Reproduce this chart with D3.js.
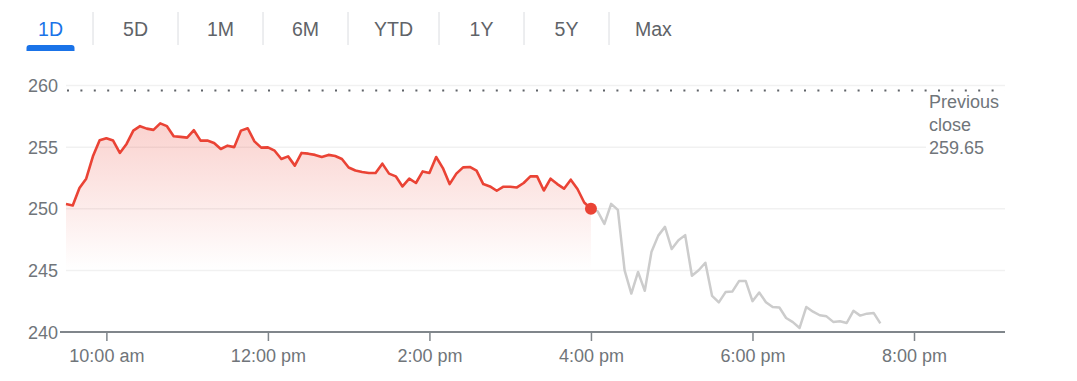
<!DOCTYPE html>
<html lang="en">
<head>
<meta charset="UTF-8">
<title>1D price</title>
<script src="https://cdn.jsdelivr.net/npm/d3@7"></script>
<style>
  body { margin: 0; background: #fff; font-family: Arial, "Liberation Sans", sans-serif; }
  .tab { font-size: 19.5px; fill: #5f6368; }
  .tab.active { fill: #1a73e8; }
  .axis text { font-size: 18px; fill: #70757a; font-family: Arial, "Liberation Sans", sans-serif; }
  .note { font-size: 18px; fill: #70757a; }
</style>
</head>
<body>
<script>
// range tabs
var tabs = ["1D", "5D", "1M", "6M", "YTD", "1Y", "5Y", "Max"];

// regular session, one value every 5 minutes from 9:30 to 16:00
var sessionValues = [
  250.38, 250.27, 251.68, 252.44, 254.25, 255.55, 255.72, 255.53, 254.53, 255.26,
  256.34, 256.70, 256.50, 256.40, 256.93, 256.70, 255.88, 255.83, 255.77, 256.37,
  255.53, 255.53, 255.34, 254.85, 255.12, 255.00, 256.34, 256.53, 255.47, 254.96,
  254.98, 254.71, 254.04, 254.25, 253.50, 254.53, 254.47, 254.37, 254.20, 254.37,
  254.28, 254.04, 253.35, 253.10, 252.98, 252.90, 252.90, 253.66, 252.85, 252.63,
  251.81, 252.44, 252.09, 253.03, 252.90, 254.20, 253.30, 252.00, 252.85, 253.36,
  253.39, 253.09, 252.00, 251.81, 251.46, 251.79, 251.79, 251.73, 252.09, 252.63,
  252.63, 251.48, 252.44, 252.00, 251.63, 252.36, 251.60, 250.51, 250.00
];

// after hours, one value every 5 minutes from 16:00
var afterValues = [
  250.00, 249.78, 248.77, 250.40, 249.91, 245.00, 243.12, 244.87, 243.34, 246.52,
  247.82, 248.53, 246.73, 247.45, 247.86, 244.57, 245.01, 245.62, 242.93, 242.40,
  243.24, 243.28, 244.13, 244.13, 242.50, 243.20, 242.42, 242.03, 241.99, 241.14,
  240.80, 240.33, 242.03, 241.65, 241.36, 241.27, 240.82, 240.87, 240.73, 241.72,
  241.33, 241.49, 241.55, 240.70
];

var previousClose = 259.65;
var yTicks = [240, 245, 250, 255, 260];
var xTickHours = [10, 12, 14, 16, 18, 20];
var xTickLabels = ["10:00 am", "12:00 pm", "2:00 pm", "4:00 pm", "6:00 pm", "8:00 pm"];
var noteLines = ["Previous", "close", previousClose.toFixed(2)];

var day = new Date(2024, 0, 2);
function at(h, m) { return new Date(day.getFullYear(), day.getMonth(), day.getDate(), h, m); }

var session = sessionValues.map(function(v, i) { return { t: at(9, 30 + i * 5), v: v }; });
var after = afterValues.map(function(v, i) { return { t: at(16, i * 5), v: v }; });

var W = 1077, H = 381;
var svg = d3.select("body").append("svg").attr("width", W).attr("height", H);

// ---- tabs
var tabG = svg.append("g");
var tx = 8;
tabs.forEach(function(name, i) {
  var t = tabG.append("text").attr("class", "tab" + (i === 0 ? " active" : ""))
    .attr("y", 36).attr("text-anchor", "middle").text(name);
  var w = Math.max(85, t.node().getComputedTextLength() + 52);
  t.attr("x", tx + w / 2);
  if (i === 0) {
    tabG.append("path")
      .attr("d", "M" + (tx + w / 2 - 24) + ",51 v-3 a3,3 0 0 1 3,-3 h42 a3,3 0 0 1 3,3 v3 z")
      .attr("fill", "#1a73e8");
  }
  tx += w;
  if (i < tabs.length - 1) {
    tabG.append("line").attr("x1", tx).attr("x2", tx).attr("y1", 12).attr("y2", 45)
      .attr("stroke", "#dadce0").attr("stroke-width", 1);
  }
});

// ---- scales
var x = d3.scaleTime().domain([at(9, 30), at(20, 0)]).range([66, 914]);
var y = d3.scaleLinear().domain([240, 260]).range([332, 85.5]);

// gridlines
svg.append("g").selectAll("line").data(yTicks.slice(1)).join("line")
  .attr("x1", 66).attr("x2", function(d) { return d === 255 ? 926 : 1005; })
  .attr("y1", function(d) { return y(d); }).attr("y2", function(d) { return y(d); })
  .attr("stroke", "#f1f1f1").attr("stroke-width", 1.5);

// y labels
var yAxis = svg.append("g").attr("class", "axis").attr("transform", "translate(60,0)")
  .call(d3.axisLeft(y).tickValues(yTicks).tickSize(0).tickPadding(2));
yAxis.select(".domain").remove();
yAxis.selectAll("text").attr("dy", "0.34em");

// previous close dotted line
svg.append("line")
  .attr("x1", 67).attr("x2", 1005)
  .attr("y1", Math.round(y(previousClose)) + 0.5).attr("y2", Math.round(y(previousClose)) + 0.5)
  .attr("stroke", "#5f6368").attr("stroke-width", 2)
  .attr("stroke-dasharray", "2,11.4");

// area gradient
var grad = svg.append("defs").append("linearGradient").attr("id", "redfade")
  .attr("gradientUnits", "userSpaceOnUse")
  .attr("x1", 0).attr("x2", 0).attr("y1", y(257)).attr("y2", y(245));
grad.append("stop").attr("offset", "0").attr("stop-color", "#ea4335").attr("stop-opacity", 0.24);
grad.append("stop").attr("offset", "1").attr("stop-color", "#ea4335").attr("stop-opacity", 0);

svg.append("path").datum(session)
  .attr("fill", "url(#redfade)")
  .attr("d", d3.area().x(function(d) { return x(d.t); }).y0(y(240)).y1(function(d) { return y(d.v); }));

var line = d3.line().x(function(d) { return x(d.t); }).y(function(d) { return y(d.v); });

svg.append("path").datum(after)
  .attr("fill", "none").attr("stroke", "#cccccc").attr("stroke-width", 2.5)
  .attr("stroke-linejoin", "round").attr("d", line);

svg.append("path").datum(session)
  .attr("fill", "none").attr("stroke", "#ea4335").attr("stroke-width", 2.6)
  .attr("stroke-linejoin", "round").attr("d", line);

var last = session[session.length - 1];
svg.append("circle").attr("cx", x(last.t)).attr("cy", y(last.v)).attr("r", 6).attr("fill", "#ea4335");

// x axis
var xAxis = svg.append("g").attr("class", "axis").attr("transform", "translate(0,332)")
  .call(d3.axisBottom(x)
    .tickValues(xTickHours.map(function(h) { return at(h, 0); }))
    .tickFormat(function(d, i) { return xTickLabels[i]; })
    .tickSize(9).tickSizeOuter(0).tickPadding(4));
xAxis.select(".domain").remove();
xAxis.selectAll(".tick line").attr("stroke", "#80868b").attr("stroke-width", 1.5);
xAxis.selectAll("text").attr("dy", "0.95em");
svg.append("line").attr("x1", 60).attr("x2", 1005).attr("y1", 332).attr("y2", 332)
  .attr("stroke", "#80868b").attr("stroke-width", 2);

// previous close note
svg.append("text").attr("class", "note").attr("x", 929).attr("y", 108)
  .selectAll("tspan").data(noteLines).join("tspan")
  .attr("x", 929).attr("dy", function(d, i) { return i === 0 ? 0 : 23; })
  .text(function(d) { return d; });
</script>
</body>
</html>
